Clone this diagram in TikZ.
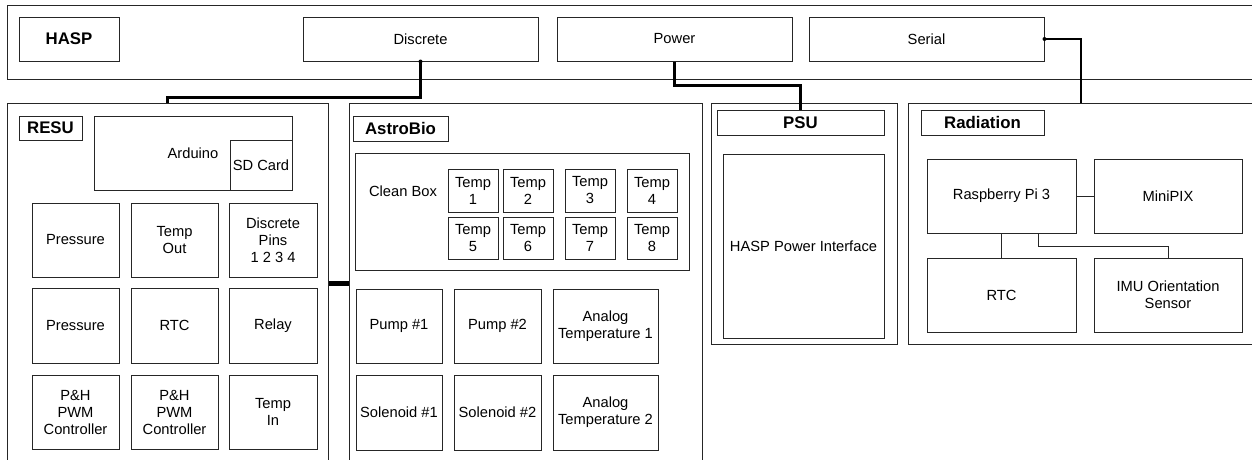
\documentclass[tikz,border=0pt]{standalone}
\usepackage{fontspec}
\setmainfont{Liberation Sans}
\newcommand\txt{\fontsize{14.7}{17}\selectfont}
\newcommand\lbf{\fontsize{16.8}{19}\selectfont\bfseries}
\newcommand\bx[7][]{\node[box,minimum width={#5-#3},minimum height={#6-#4},#1] (#2) at ({(#3+#5)/2},{(#4+#6)/2}) {#7};}
\begin{document}
\begin{tikzpicture}[x=1pt,y=-1pt,
  box/.style={draw=black!85,line width=1pt,inner sep=1pt,align=center,font=\txt,fill=white},
  lbl/.style={font=\lbf},
  conn/.style={line width=2.8pt,black},
  link/.style={line width=1pt,black!85},
  bridge/.style={line width=5pt,black}]
\useasboundingbox (0,0) rectangle (1252,459);
\clip (0,0) rectangle (1252,459);
% outer containers
\bx{hasp}{7}{5}{1262}{79}{}
\bx{resu}{7}{103}{328}{463}{}
\bx{astro}{349}{103}{702}{463}{}
\bx{psu}{711}{103}{897}{344}{}
\bx{rad}{908}{103}{1254}{344}{}
% HASP row
\bx[lbl]{hasplbl}{19}{17}{119}{61}{HASP}
\bx{disc}{303}{17}{538}{61}{Discrete}
\bx{power}{557}{17}{792}{61}{Power}
\bx{serial}{809}{17}{1044}{61}{Serial}
% PSU
\bx[lbl]{psulbl}{717}{110}{884}{135}{PSU}
\bx{hpi}{723}{154}{884}{338}{HASP Power Interface}
% connectors
\draw[conn] (disc.south) -- ++(0,36) -| (resu.north);
\fill (disc.south) circle (2pt);
\draw[conn] (power.south) -- ++(0,24) -| (psulbl.north);
\draw[conn] (serial.east) -| (rad.north);
\fill (serial.east) circle (2pt);
\draw[bridge] (resu.east) -- (astro.west);
% RESU
\bx[lbl]{resulbl}{19}{116}{82}{140}{RESU}
\bx{ard}{94}{116}{292}{190}{Arduino}
\bx{sd}{230}{140}{292}{190}{SD Card}
\bx{pres1}{32}{203}{119}{277}{Pressure}
\bx{tout}{131}{203}{218}{277}{Temp\\Out}
\bx{dpins}{229}{203}{317}{277}{Discrete\\Pins\\1 2 3 4}
\bx{pres2}{32}{288}{119}{363}{Pressure}
\bx{rtc1}{131}{288}{218}{363}{RTC}
\bx{relay}{229}{288}{317}{363}{Relay}
\bx{pwm1}{32}{375}{119}{449}{P\&H\\PWM\\Controller}
\bx{pwm2}{131}{375}{218}{449}{P\&H\\PWM\\Controller}
\bx{tin}{229}{375}{317}{449}{Temp\\In}
% AstroBio
\bx[lbl]{astrolbl}{353}{116}{448}{141}{AstroBio}
\bx{clean}{355}{153}{689}{270}{}
\node[font=\txt] (cleanlbl) at (403,191) {Clean Box};
\bx{t1}{448}{169}{498}{212}{Temp\\1}
\bx{t2}{503}{169}{553}{212}{Temp\\2}
\bx{t3}{565}{169}{615}{212}{Temp\\3}
\bx{t4}{627}{169}{677}{212}{Temp\\4}
\bx{t5}{448}{217}{498}{259}{Temp\\5}
\bx{t6}{503}{217}{553}{259}{Temp\\6}
\bx{t7}{565}{217}{615}{259}{Temp\\7}
\bx{t8}{627}{217}{677}{259}{Temp\\8}
\bx{pump1}{356}{289}{442}{363}{Pump \#1}
\bx{pump2}{454}{289}{541}{363}{Pump \#2}
\bx{at1}{553}{289}{658}{363}{Analog\\Temperature 1}
\bx{sol1}{356}{375}{442}{450}{Solenoid \#1}
\bx{sol2}{454}{375}{541}{450}{Solenoid \#2}
\bx{at2}{553}{375}{658}{450}{Analog\\Temperature 2}
% Radiation
\bx[lbl]{radlbl}{921}{110}{1044}{135}{Radiation}
\bx{rpi}{927}{159}{1076}{233}{Raspberry Pi 3}
\bx{mini}{1094}{159}{1242}{233}{MiniPIX}
\bx{rtc2}{927}{258}{1076}{332}{RTC}
\bx{imu}{1094}{258}{1242}{332}{IMU Orientation\\Sensor}
\draw[link] (rpi.east) -- (mini.west);
\draw[link] (rpi.south) -- (rtc2.north);
\draw[link] ([xshift=36.5pt]rpi.south) -- ++(0,13) -| (imu.north);
\end{tikzpicture}
\end{document}
